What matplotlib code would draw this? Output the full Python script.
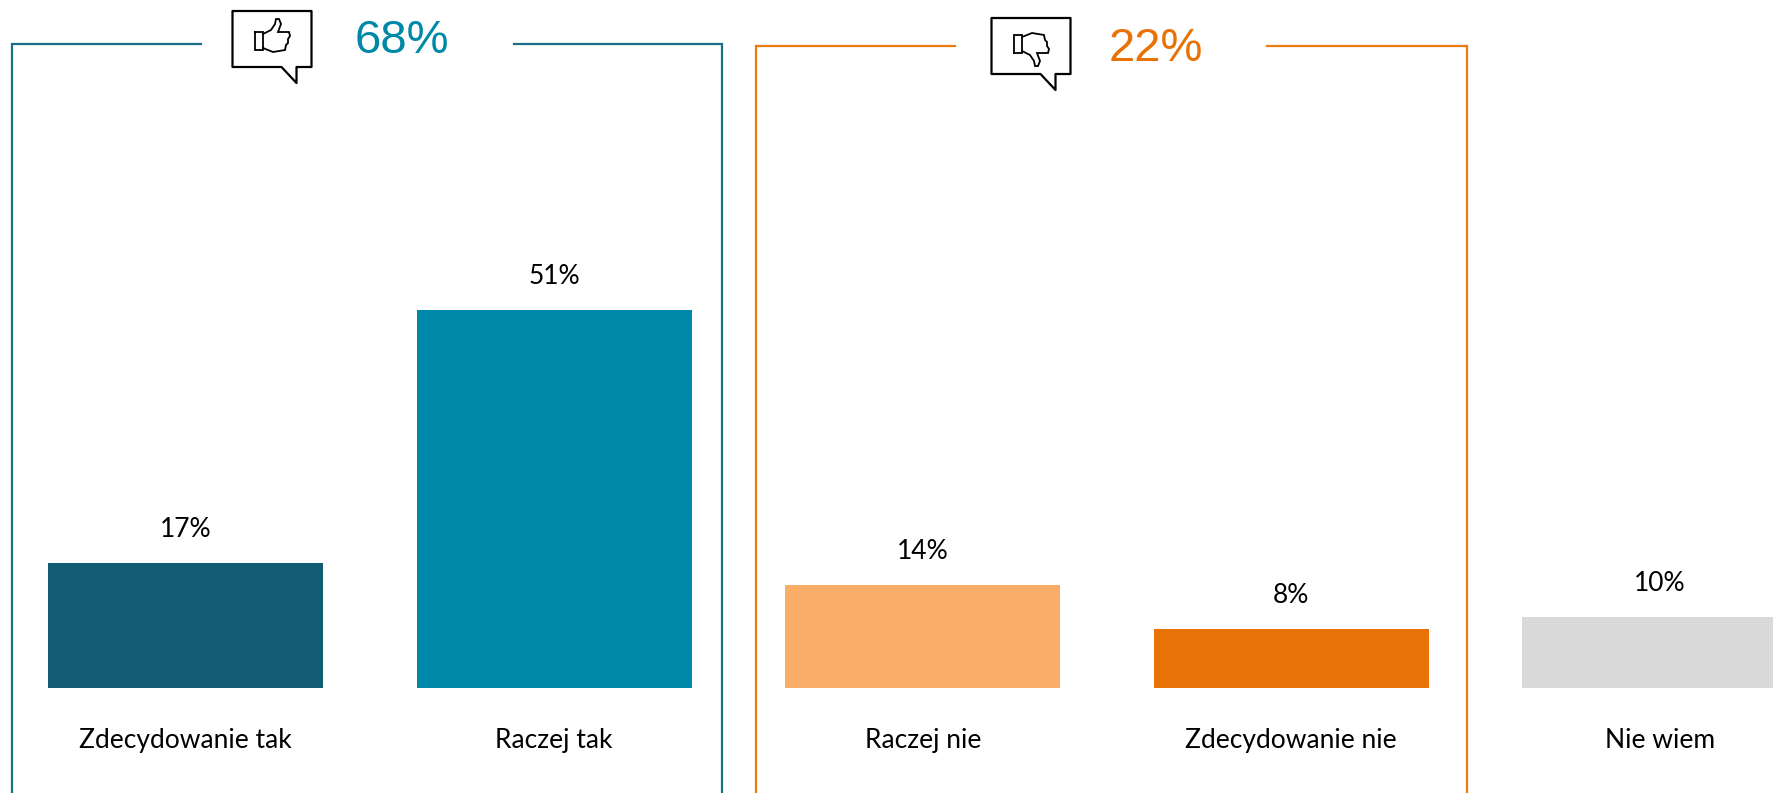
import matplotlib
matplotlib.use('Agg')
import matplotlib.pyplot as plt
from matplotlib.patches import PathPatch
from matplotlib.path import Path
from matplotlib.transforms import Affine2D

# dane
categories = ['Zdecydowanie tak', 'Raczej tak', 'Raczej nie', 'Zdecydowanie nie', 'Nie wiem']
values = [16.9, 51.2, 13.9, 7.9, 9.6]
value_labels = ['17%', '51%', '14%', '8%', '10%']
bar_colors = ['#125D73', '#0088A8', '#F9AD66', '#E97207', '#D9D9D9']
summary_labels = ['68%', '22%']

W, H = 1774, 793
PITCH = 368.6
X0 = 185.5
Y0 = 687.6
PX_PER_UNIT = 7.37

fig = plt.figure(figsize=(W / 100, H / 100), dpi=100)
ax = fig.add_axes([0, 0, 1, 1])
ax.set_xlim(-X0 / PITCH, (W - X0) / PITCH)
ax.set_ylim(-(H - Y0) / PX_PER_UNIT, Y0 / PX_PER_UNIT)
ax.axis('off')

xs = list(range(len(categories)))
ax.bar(xs, values, width=275 / PITCH, color=bar_colors)

for x, v, lab, cat in zip(xs, values, value_labels, categories):
    ax.annotate(lab, (x, v), xytext=(0, 21), textcoords='offset pixels', ha='center', va='bottom',
                fontsize=19, family='Lato', color='black')
    ax.annotate(cat, (x, 0), xytext=(0, -40), textcoords='offset pixels', ha='center', va='top',
                fontsize=19, family='Lato', color='black')

# warstwa w pikselach (y w dol) na ramki i ikony
px = Affine2D().scale(1, -1).translate(0, H)


def line(xx, yy, color, lw=1.6):
    ax.plot(xx, yy, color=color, lw=lw, transform=px, clip_on=False, solid_joinstyle='miter')


line([201, 11.5, 11.5], [44, 44, 793], '#1A6E85')
line([514, 722, 722], [44, 44, 793], '#1A6E85')
line([955, 756, 756], [46, 46, 793], '#EC7A12')
line([1267, 1467, 1467], [46, 46, 793], '#EC7A12')


def bubble(x, y):
    verts = [(x, y), (x + 79, y), (x + 79, y + 56), (x + 64, y + 56), (x + 64, y + 72),
             (x + 49, y + 56), (x, y + 56), (x, y)]
    codes = [Path.MOVETO] + [Path.LINETO] * 6 + [Path.CLOSEPOLY]
    ax.add_patch(PathPatch(Path(verts, codes), fc='white', ec='black', lw=1.6, transform=px,
                           joinstyle='round', clip_on=False))


def thumb(x, y, flip=False):
    # kciuk w lokalnych pikselach, dla drugiej ikony odbity w pionie
    cuff = [(0, 0), (8, 0), (8, 18), (0, 18), (0, 0)]
    hand = [(8, 2), (16, -2), (20, -8), (21, -13), (24, -13), (26, -8), (23, 0), (34, 0), (35, 4),
            (33, 7), (33, 11), (31, 13), (30, 18), (18, 20), (13, 18), (8, 16)]
    for pts in (cuff, hand):
        if flip:
            pts = [(a, 18 - b) for a, b in pts]
        pts = [(x + a, y + b) for a, b in pts]
        xx, yy = zip(*pts)
        line(xx, yy, 'black', lw=1.3)


bubble(232.5, 11)
bubble(991.5, 18)
thumb(255, 32)
thumb(1014, 35, flip=True)

ax.text(402, 41, summary_labels[0], transform=px, ha='center', va='center', fontsize=34,
        family='Liberation Sans', color='#0088A8')
ax.text(1156, 49, summary_labels[1], transform=px, ha='center', va='center', fontsize=34,
        family='Liberation Sans', color='#E97207')

fig.savefig('out.png', dpi=100)
